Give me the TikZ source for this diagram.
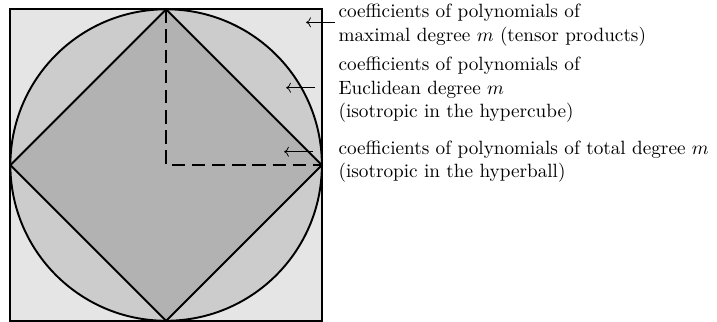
\documentclass[tikz,border=0pt]{standalone}
\usepackage{amsmath}
\usepackage{tikz}
\usetikzlibrary{arrows.meta, positioning}

\begin{document}
\begin{tikzpicture}[
    region/.style={draw, line width=1pt},
    lbl/.style={anchor=base west, inner sep=0pt, align=left},
    ptr/.style={->},
    radius line/.style={line width=1pt, dash pattern=on 7pt off 3.5pt}
]
\useasboundingbox (-3.04,-2.87) rectangle (10.08,3.02);
\coordinate (o) at (0,0);
\coordinate (n) at (0,2.85);
\coordinate (w) at (-2.85,0);
\coordinate (s) at (0,-2.85);
\coordinate (e) at (2.85,0);

\draw[region, fill=black!10] (-2.85,-2.85) rectangle (2.85,2.85);
\draw[region, fill=black!20] (o) circle (2.85);
\draw[region, fill=black!30] (n) -- (w) -- (s) -- (e) -- cycle;
\draw[radius line] (n) -- (o) -- (e);

% last-line baselines
\node[lbl] (tensor) at (3.148,2.269) {coefficients of polynomials of\\maximal degree $m$ (tensor products)};
\node[lbl] (eucl)   at (3.148,0.878) {coefficients of polynomials of\\Euclidean degree $m$\\(isotropic in the hypercube)};
\node[lbl] (total)  at (3.148,-0.22) {coefficients of polynomials of total degree $m$\\(isotropic in the hyperball)};

\coordinate (p1) at (3.093,2.611);  \coordinate (t1) at (2.562,2.611);
\coordinate (p2) at (2.727,1.415);  \coordinate (t2) at (2.196,1.415);
\coordinate (p3) at (2.690,0.243);  \coordinate (t3) at (2.159,0.243);
\draw[ptr] (p1) -- (t1);
\draw[ptr] (p2) -- (t2);
\draw[ptr] (p3) -- (t3);
\end{tikzpicture}
\end{document}
